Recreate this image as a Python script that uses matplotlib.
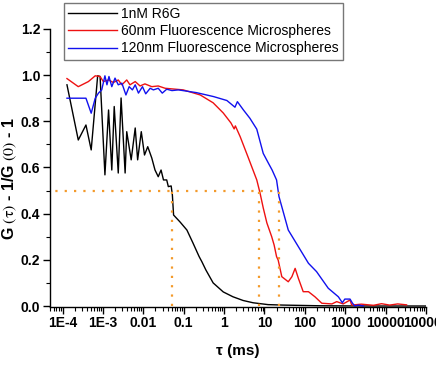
import numpy as np
import matplotlib

matplotlib.use("Agg")
import matplotlib.pyplot as plt
from matplotlib.legend_handler import HandlerLine2D
from matplotlib.ticker import FixedLocator, LogLocator, MultipleLocator, NullFormatter

plt.rcParams["font.family"] = ["Liberation Sans", "DejaVu Sans"]
plt.rcParams["mathtext.fontset"] = "stix"

# Data (log10 of tau in ms, normalised correlation)
r6g_logtau = [-3.89, -3.61, -3.42, -3.29, -3.13, -3.07, -2.95, -2.86, -2.78, -2.72,
              -2.62, -2.55, -2.45, -2.41, -2.30, -2.20, -2.14, -2.05, -1.97, -1.89,
              -1.79, -1.71, -1.63, -1.56, -1.50, -1.42, -1.38, -1.31, -1.28, -1.25,
              -1.09, -0.92, -0.77, -0.62, -0.59, -0.55, -0.45, -0.27, -0.02, 0.22,
              0.47, 0.72, 1.09, 1.46, 2.38, 3.6, 5.0]
r6g_g = [0.958, 0.719, 0.784, 0.676, 0.997, 0.994, 0.568, 0.849, 0.589, 0.864,
         0.576, 0.901, 0.576, 0.755, 0.633, 0.771, 0.633, 0.755, 0.654, 0.690,
         0.641, 0.589, 0.560, 0.589, 0.546, 0.546, 0.517, 0.520, 0.481, 0.394,
         0.364, 0.329, 0.273, 0.215, 0.205, 0.192, 0.156, 0.100, 0.061, 0.040,
         0.024, 0.014, 0.006, 0.004, 0.001, 0.0, 0.0]

nm60_logtau = [-3.89, -3.61, -3.36, -3.19, -3.07, -2.99, -2.86, -2.74, -2.62, -2.53,
               -2.41, -2.33, -2.20, -2.08, -1.96, -1.79, -1.63, -1.46, -1.01, -0.59,
               -0.27, -0.02, 0.17, 0.25, 0.28, 0.40, 0.59, 0.81, 0.89, 0.97,
               1.06, 1.18, 1.24, 1.30, 1.34, 1.43, 1.59, 1.68, 1.76, 1.84,
               1.96, 2.09, 2.25, 2.42, 2.67, 2.79, 2.95, 3.12, 3.16, 3.4,
               3.7, 3.9, 4.1, 4.3, 4.52]
nm60_g = [0.985, 0.950, 0.972, 0.997, 0.994, 0.972, 0.979, 0.968, 0.979, 0.958,
          0.979, 0.958, 0.972, 0.953, 0.962, 0.950, 0.953, 0.943, 0.936, 0.914,
          0.880, 0.836, 0.793, 0.767, 0.780, 0.733, 0.647, 0.546, 0.490, 0.425,
          0.360, 0.300, 0.264, 0.214, 0.199, 0.127, 0.105, 0.127, 0.163, 0.120,
          0.062, 0.062, 0.040, 0.012, 0.009, 0.019, 0.009, 0.026, 0.004, 0.008,
          0.003, 0.010, 0.004, 0.009, 0.005]

nm120_logtau = [-3.89, -3.61, -3.42, -3.29, -3.19, -3.11, -3.03, -2.95, -2.90, -2.85,
                -2.78, -2.70, -2.62, -2.53, -2.43, -2.35, -2.27, -2.20, -2.12, -2.02,
                -1.94, -1.83, -1.75, -1.63, -1.53, -1.42, -1.29, -1.13, -0.68, -0.26,
                0.07, 0.27, 0.33, 0.48, 0.64, 0.81, 0.97, 1.10, 1.19, 1.30,
                1.36, 1.43, 1.59, 1.84, 2.09, 2.29, 2.58, 2.83, 2.93, 2.99,
                3.12, 3.18, 3.24, 3.32, 3.45]
nm120_g = [0.900, 0.900, 0.900, 0.835, 0.900, 0.922, 0.936, 0.997, 0.958, 0.994,
           0.950, 0.987, 0.958, 0.965, 0.914, 0.950, 0.936, 0.958, 0.922, 0.950,
           0.919, 0.943, 0.936, 0.943, 0.922, 0.939, 0.933, 0.936, 0.924, 0.907,
           0.890, 0.861, 0.885, 0.849, 0.813, 0.766, 0.661, 0.618, 0.589, 0.546,
           0.474, 0.430, 0.329, 0.257, 0.185, 0.149, 0.077, 0.040, 0.014, 0.030,
           0.030, 0.012, 0.0, 0.004, 0.0]

# half-decay times marked by the dotted guides (ms)
half_times = [0.051, 7.4, 23.0]
half_level = 0.5

series = [
    ("1nM R6G", r6g_logtau, r6g_g, "black"),
    ("60nm Fluorescence Microspheres", nm60_logtau, nm60_g, "#ee1111"),
    ("120nm Fluorescence Microspheres", nm120_logtau, nm120_g, "#1111ee"),
]

xtick_vals = [1e-4, 1e-3, 1e-2, 1e-1, 1, 10, 100, 1000, 10000, 100000]
xtick_labels = ["1E-4", "1E-3", "0.01", "0.1", "1", "10", "100", "1000", "10000", "100000"]


class RightLineHandler(HandlerLine2D):
    # draw the sample line only over the right part of the handle box
    def create_artists(self, legend, orig_handle, xdescent, ydescent,
                       width, height, fontsize, trans):
        artists = super().create_artists(legend, orig_handle, xdescent, ydescent,
                                         width, height, fontsize, trans)
        for a in artists:
            xd = a.get_xdata()
            if len(xd) == 2:
                a.set_xdata([xd[1] - 0.58 * width, xd[1]])
        return artists


fig = plt.figure(figsize=(4.36, 3.91), dpi=100)
ax = fig.add_axes([0.1147, 0.2156, 0.8623, 0.7104])

lines = []
for label, logtau, g, color in series:
    (ln,) = ax.plot(10 ** np.array(logtau), g, color=color, lw=1.0, label=label)
    lines.append(ln)

# dotted guides at G = 0.5
orange = "#f39a2b"
ax.plot([10 ** -4.4, max(half_times)], [half_level, half_level], color=orange,
        lw=1.6, linestyle=(0, (1, 3.2)), zorder=3)
for t in half_times:
    ax.plot([t, t], [0, half_level], color=orange, lw=1.6,
            linestyle=(0, (1, 3.2)), zorder=3)

ax.set_xscale("log")
ax.set_xlim(10 ** -4.31, 1e5)
ax.set_ylim(-0.003, 1.2)

ax.xaxis.set_major_locator(FixedLocator(xtick_vals))
ax.set_xticklabels(xtick_labels)
ax.xaxis.set_minor_locator(LogLocator(base=10, subs=np.arange(2, 10), numticks=20))
ax.xaxis.set_minor_formatter(NullFormatter())
ax.yaxis.set_major_locator(MultipleLocator(0.2))
ax.yaxis.set_minor_locator(MultipleLocator(0.1))
ax.yaxis.set_major_formatter(plt.FuncFormatter(lambda v, p: f"{v:.1f}"))

for side in ("top", "right"):
    ax.spines[side].set_visible(False)
for side in ("left", "bottom"):
    ax.spines[side].set_linewidth(1.0)

ax.tick_params(which="major", direction="out", length=5, width=1.0,
               labelsize=10, pad=2)
ax.tick_params(which="minor", direction="out", length=3, width=0.8)
for lab in ax.get_xticklabels() + ax.get_yticklabels():
    lab.set_fontweight("bold")
for lab in ax.get_xticklabels():
    lab.set_clip_on(False)

ax.set_xlabel("\u03c4 (ms)", fontsize=11, fontweight="bold", labelpad=10)
fig.text(10 / 436, 1 - 178 / 391, r"G $\mathrm{(\tau)}$ - 1/G $\mathrm{(0)}$ - 1",
         rotation=90, ha="center", va="center", fontsize=11.5, fontweight="bold")

fig.legend(handles=lines, loc="upper left", bbox_to_anchor=(0.147, 0.992),
           fontsize=10, frameon=True, fancybox=False, edgecolor="#555555",
           handlelength=3.5, handletextpad=0.3, labelspacing=0.22,
           borderpad=0.3, borderaxespad=0,
           handler_map={matplotlib.lines.Line2D: RightLineHandler()})

fig.savefig("out.png", dpi=100)
